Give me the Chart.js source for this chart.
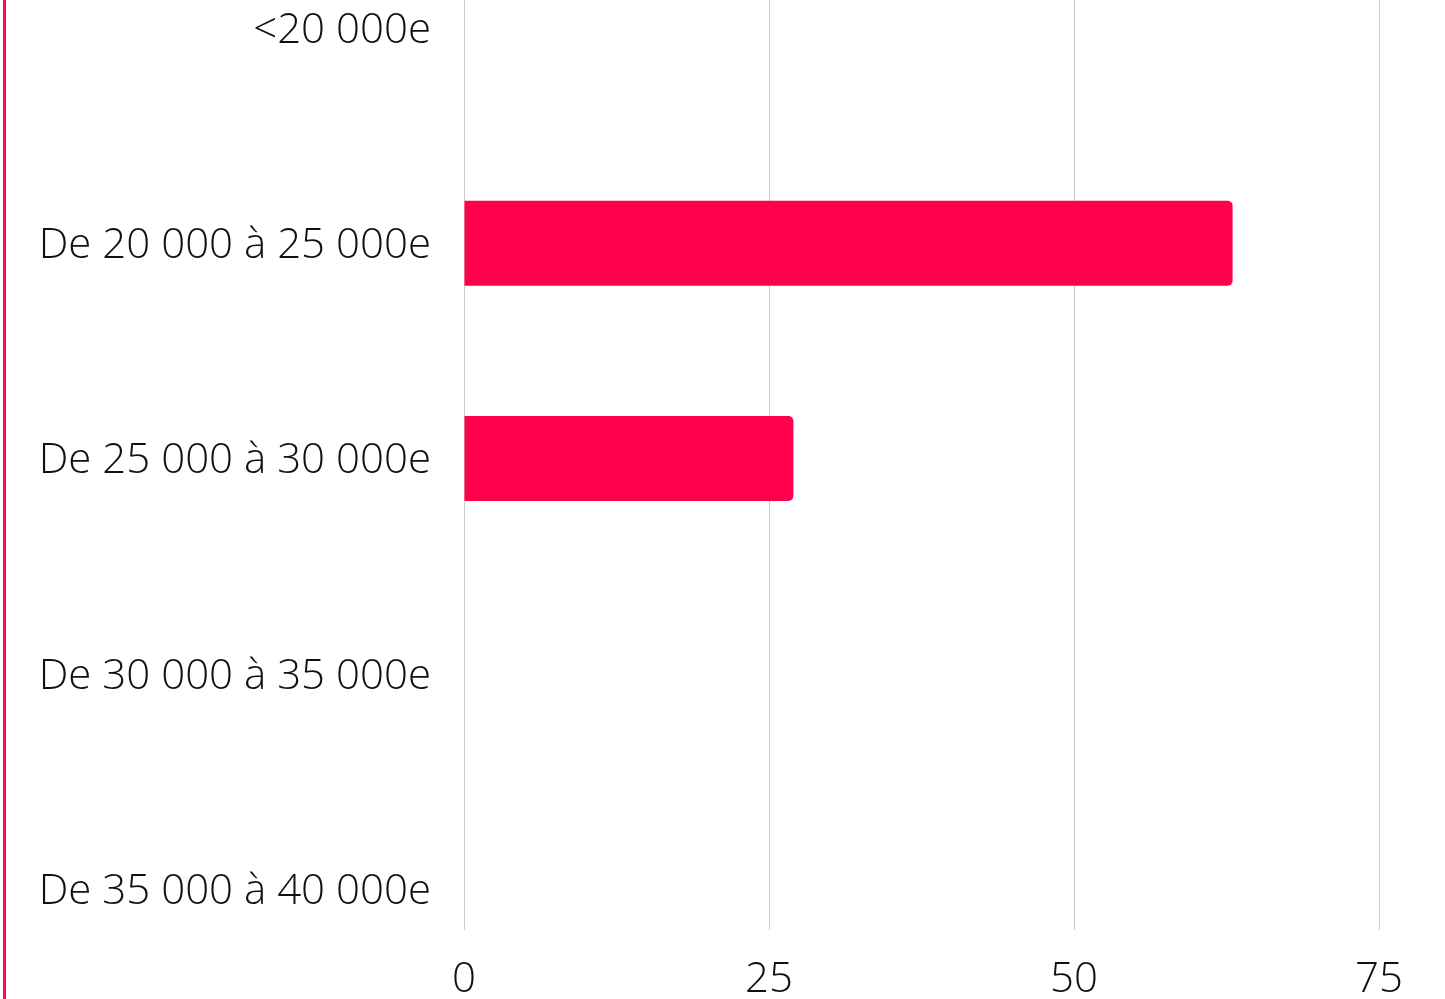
<!DOCTYPE html>
<html>
<head>
<meta charset="utf-8">
<script src="https://cdn.jsdelivr.net/npm/chart.js@4/dist/chart.umd.min.js"></script>
<style>
  html, body { margin: 0; padding: 0; background: #fff; overflow: hidden; }
  #wrap { position: absolute; left: 3px; top: 0; width: 1442px; height: 999px; border-left: 3px solid #ff0a50; }
  #wrap canvas { display: block; }
</style>
</head>
<body>
<div id="wrap"><canvas id="chart" width="1439" height="999"></canvas></div>
<script>
// tranches de salaire et pourcentages
const categories = ['<20 000e', 'De 20 000 à 25 000e', 'De 25 000 à 30 000e', 'De 30 000 à 35 000e', 'De 35 000 à 40 000e'];
const valeurs = [0, 63, 27, 0, 0];
const xTicks = [0, 25, 50, 75];

const police = { family: "'Open Sans', sans-serif", size: 42, weight: 300 };

const ctx = document.getElementById('chart').getContext('2d');
new Chart(ctx, {
  type: 'bar',
  data: {
    datasets: [{
      data: valeurs.map((v, i) => ({ x: v, y: i })),
      backgroundColor: '#ff004a',
      borderRadius: 5,
      inflateAmount: 0,
      barThickness: 85
    }]
  },
  options: {
    indexAxis: 'y',
    responsive: false,
    animation: false,
    layout: { padding: { right: 66, top: 0, bottom: 0, left: 0 } },
    plugins: { legend: { display: false }, tooltip: { enabled: false } },
    scales: {
      x: {
        type: 'linear',
        min: xTicks[0],
        max: xTicks[xTicks.length - 1],
        afterBuildTicks: s => { s.ticks = xTicks.map(v => ({ value: v })); },
        afterFit: s => { s.height = 77; s.paddingLeft = 0; s.paddingRight = 0; },
        grid: { color: '#cccccc', lineWidth: 1, tickLength: 8 },
        border: { display: false },
        ticks: { color: '#111', font: police, padding: 25, maxRotation: 0 }
      },
      y: {
        type: 'linear',
        reverse: true,
        offset: false,
        min: -0.13,
        max: 4.153,
        afterBuildTicks: s => { s.ticks = categories.map((c, i) => ({ value: i })); },
        ticks: { color: '#111', font: police, padding: 25, labelOffset: 3, callback: v => categories[v] },
        afterFit: s => { s.width = 458; s.paddingTop = 0; s.paddingBottom = 0; },
        grid: { display: false, offset: false },
        border: { display: false }
      }
    }
  }
});
</script>
</body>
</html>
